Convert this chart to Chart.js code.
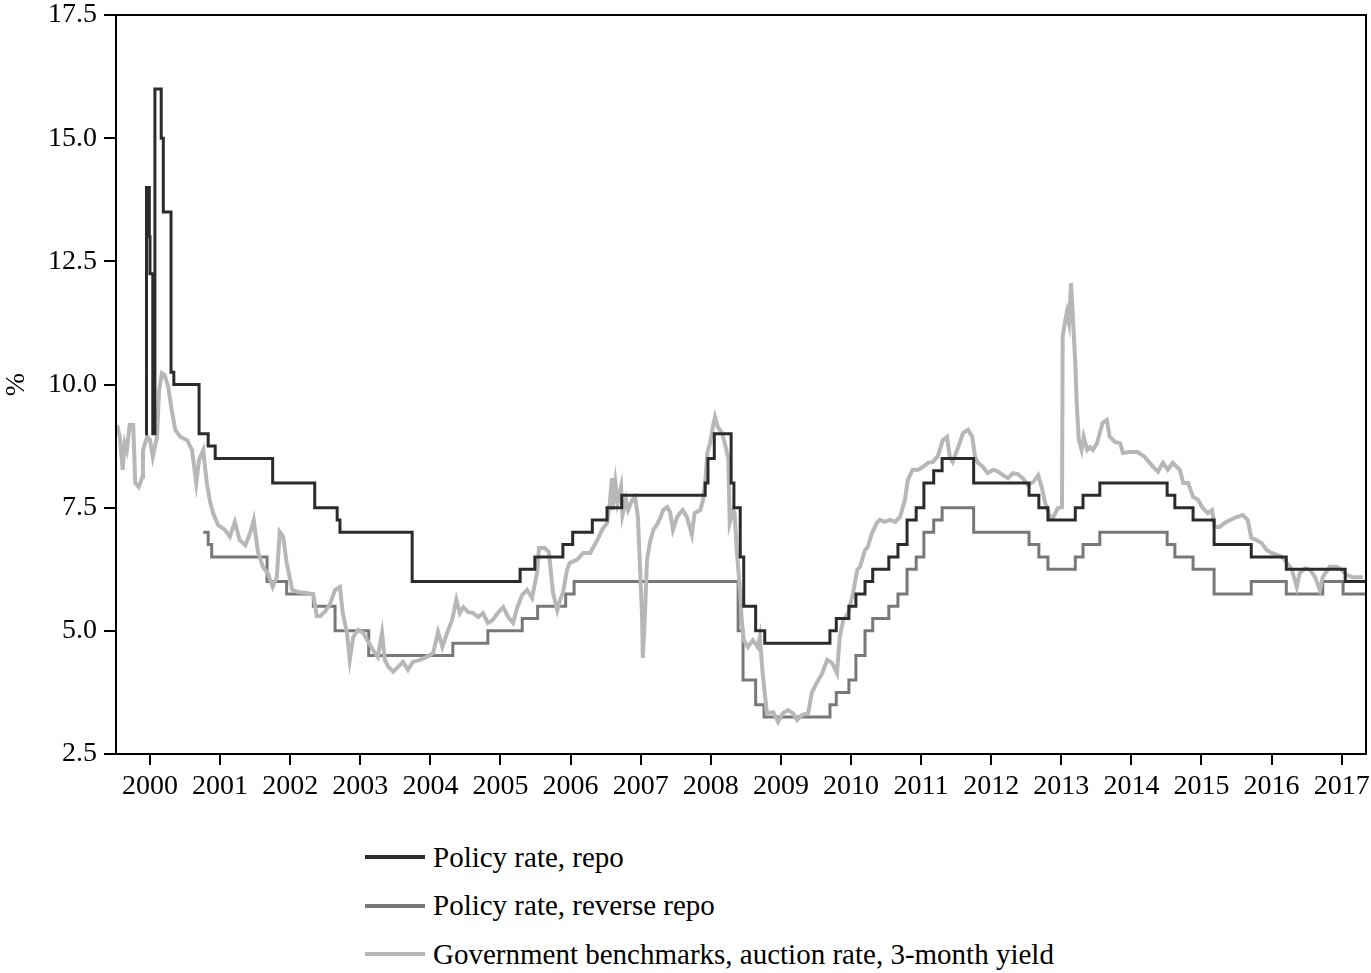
<!DOCTYPE html>
<html>
<head>
<meta charset="utf-8">
<script src="https://cdn.jsdelivr.net/npm/chart.js@4.4.1/dist/chart.umd.min.js"></script>
<style>
  html, body { margin:0; padding:0; background:#fff; }
  #wrap { position:relative; width:1371px; height:973px; overflow:hidden; }
  #c { position:absolute; left:0; top:0; }
  #legend { position:absolute; left:365px; top:833px; font-family:'Liberation Serif','Times New Roman',serif; font-size:29px; color:#000; }
  .row { display:flex; align-items:center; height:48.5px; white-space:nowrap; }
  .sw { display:inline-block; width:60px; height:4px; margin-right:8px; }
</style>
</head>
<body>
<div id="wrap">
  <canvas id="c" width="1371" height="800"></canvas>
  <div id="legend"></div>
</div>
<script>
// ---- data (x = decimal year on the axis, y = percent) ----
const seriesNames = [
  'Policy rate, repo',
  'Policy rate, reverse repo',
  'Government benchmarks, auction rate, 3-month yield'
];
const yearTicks = [2000,2001,2002,2003,2004,2005,2006,2007,2008,2009,2010,2011,2012,2013,2014,2015,2016,2017];
const yTicks = [2.5,5.0,7.5,10.0,12.5,15.0,17.5];
const X_MIN = 1999.515, X_MAX = 2017.347;

// step series: [date of change, new rate]
const repo = [[1999.93,9.0],[1999.95,14.0],[1999.99,13.0],[2000.00,12.25],[2000.04,9.0],[2000.07,16.0],[2000.16,15.0],[2000.19,13.5],[2000.30,10.25],[2000.34,10.0],[2000.70,9.0],[2000.83,8.75],[2000.93,8.5],[2001.75,8.0],[2002.35,7.5],[2002.67,7.25],[2002.71,7.0],[2003.74,6.0],[2005.28,6.25],[2005.49,6.5],[2005.89,6.75],[2006.03,7.0],[2006.31,7.25],[2006.52,7.5],[2006.73,7.75],[2007.92,8.0],[2007.96,8.5],[2008.05,9.0],[2008.29,8.0],[2008.33,7.5],[2008.42,6.5],[2008.47,5.5],[2008.64,5.0],[2008.77,4.75],[2009.70,5.0],[2009.79,5.25],[2009.97,5.5],[2010.07,5.75],[2010.20,6.0],[2010.31,6.25],[2010.54,6.5],[2010.67,6.75],[2010.80,7.25],[2010.93,7.5],[2011.04,8.0],[2011.18,8.25],[2011.30,8.5],[2011.75,8.0],[2012.54,7.75],[2012.68,7.5],[2012.81,7.25],[2013.20,7.5],[2013.31,7.75],[2013.55,8.0],[2014.51,7.75],[2014.62,7.5],[2014.88,7.25],[2015.18,6.75],[2015.71,6.5],[2016.21,6.25],[2017.05,6.0],[2017.40,6.0]];

const reverseRepo = [[2000.76,7.0],[2000.83,6.75],[2000.88,6.5],[2001.67,6.0],[2001.95,5.75],[2002.33,5.5],[2002.64,5.0],[2003.12,4.5],[2004.32,4.75],[2004.82,5.0],[2005.31,5.25],[2005.53,5.5],[2005.93,5.75],[2006.05,6.0],[2008.39,5.0],[2008.46,4.0],[2008.64,3.5],[2008.76,3.25],[2009.70,3.5],[2009.79,3.75],[2009.97,4.0],[2010.07,4.5],[2010.20,5.0],[2010.31,5.25],[2010.54,5.5],[2010.67,5.75],[2010.80,6.25],[2010.93,6.5],[2011.04,7.0],[2011.18,7.25],[2011.30,7.5],[2011.75,7.0],[2012.54,6.75],[2012.68,6.5],[2012.81,6.25],[2013.20,6.5],[2013.31,6.75],[2013.55,7.0],[2014.51,6.75],[2014.62,6.5],[2014.88,6.25],[2015.18,5.75],[2015.71,6.0],[2016.21,5.75],[2016.73,6.0],[2017.02,5.75],[2017.40,5.75]];

const benchmark = [[1999.53,9.18],[1999.57,8.94],[1999.61,8.27],[1999.64,8.81],[1999.67,8.67],[1999.71,9.18],[1999.76,9.18],[1999.79,8.0],[1999.84,7.92],[1999.89,8.12],[1999.90,8.67],[1999.96,8.94],[2000.00,8.87],[2000.04,8.53],[2000.10,8.94],[2000.13,9.89],[2000.17,10.23],[2000.21,10.19],[2000.26,9.95],[2000.31,9.48],[2000.36,9.08],[2000.43,8.94],[2000.53,8.87],[2000.60,8.67],[2000.66,8.0],[2000.70,8.47],[2000.76,8.67],[2000.81,8.0],[2000.86,7.6],[2000.90,7.39],[2000.97,7.15],[2001.07,7.05],[2001.14,6.91],[2001.21,7.21],[2001.28,6.84],[2001.36,6.74],[2001.43,6.99],[2001.48,7.25],[2001.54,6.6],[2001.61,6.3],[2001.68,6.17],[2001.75,5.89],[2001.81,6.09],[2001.85,7.01],[2001.90,6.91],[2001.95,6.38],[2002.03,5.83],[2002.11,5.79],[2002.24,5.77],[2002.33,5.73],[2002.38,5.3],[2002.43,5.3],[2002.50,5.4],[2002.57,5.55],[2002.64,5.83],[2002.71,5.89],[2002.75,5.36],[2002.81,4.96],[2002.85,4.41],[2002.90,4.88],[2002.97,5.02],[2003.04,4.96],[2003.10,4.81],[2003.18,4.61],[2003.25,4.47],[2003.31,4.96],[2003.35,4.41],[2003.40,4.27],[2003.47,4.17],[2003.54,4.27],[2003.61,4.37],[2003.68,4.21],[2003.75,4.37],[2003.85,4.41],[2003.95,4.47],[2004.04,4.55],[2004.11,4.98],[2004.17,4.67],[2004.24,4.96],[2004.31,5.22],[2004.37,5.63],[2004.42,5.36],[2004.47,5.48],[2004.54,5.38],[2004.61,5.36],[2004.68,5.28],[2004.75,5.36],[2004.82,5.16],[2004.89,5.22],[2004.96,5.36],[2005.04,5.48],[2005.11,5.28],[2005.18,5.16],[2005.24,5.48],[2005.31,5.73],[2005.38,5.83],[2005.45,5.67],[2005.52,6.17],[2005.55,6.68],[2005.63,6.68],[2005.69,6.6],[2005.75,5.77],[2005.81,5.42],[2005.85,5.63],[2005.89,5.77],[2005.95,6.24],[2005.99,6.38],[2006.09,6.44],[2006.18,6.58],[2006.28,6.58],[2006.38,6.84],[2006.45,7.05],[2006.52,7.19],[2006.56,7.6],[2006.59,8.1],[2006.60,7.45],[2006.64,8.0],[2006.67,7.6],[2006.72,7.92],[2006.74,7.35],[2006.79,7.66],[2006.82,7.45],[2006.88,7.66],[2006.92,7.72],[2006.96,7.31],[2006.99,6.3],[2007.02,5.28],[2007.03,4.45],[2007.06,5.28],[2007.09,6.44],[2007.13,6.78],[2007.18,7.05],[2007.23,7.15],[2007.28,7.29],[2007.32,7.45],[2007.38,7.51],[2007.42,7.41],[2007.46,7.05],[2007.52,7.31],[2007.56,7.39],[2007.60,7.45],[2007.66,7.31],[2007.73,6.95],[2007.77,7.39],[2007.85,7.45],[2007.89,7.66],[2007.92,8.0],[2007.95,8.61],[2007.99,8.81],[2008.03,9.14],[2008.06,9.34],[2008.10,9.14],[2008.16,9.02],[2008.20,8.81],[2008.25,8.5],[2008.27,7.19],[2008.32,7.45],[2008.34,7.4],[2008.37,6.64],[2008.42,5.77],[2008.44,5.25],[2008.47,4.81],[2008.53,4.67],[2008.60,4.81],[2008.67,4.67],[2008.70,4.88],[2008.74,4.14],[2008.80,3.33],[2008.89,3.35],[2008.96,3.15],[2009.03,3.33],[2009.10,3.39],[2009.17,3.33],[2009.23,3.19],[2009.30,3.29],[2009.39,3.33],[2009.44,3.74],[2009.51,3.94],[2009.59,4.14],[2009.66,4.41],[2009.73,4.35],[2009.80,4.14],[2009.84,4.88],[2009.89,5.22],[2009.96,5.36],[2010.03,5.77],[2010.09,6.24],[2010.13,6.3],[2010.20,6.64],[2010.24,6.7],[2010.30,6.99],[2010.37,7.19],[2010.41,7.25],[2010.48,7.21],[2010.56,7.25],[2010.63,7.21],[2010.70,7.31],[2010.77,7.66],[2010.81,8.06],[2010.88,8.27],[2010.96,8.27],[2011.03,8.33],[2011.10,8.41],[2011.17,8.43],[2011.24,8.55],[2011.31,8.87],[2011.37,8.94],[2011.41,8.53],[2011.45,8.43],[2011.53,8.73],[2011.60,9.02],[2011.67,9.08],[2011.73,8.94],[2011.77,8.53],[2011.81,8.41],[2011.88,8.33],[2011.95,8.2],[2012.03,8.27],[2012.10,8.23],[2012.17,8.16],[2012.24,8.1],[2012.31,8.2],[2012.38,8.18],[2012.45,8.1],[2012.52,7.96],[2012.60,8.02],[2012.67,8.16],[2012.72,7.92],[2012.77,7.6],[2012.84,7.31],[2012.88,7.29],[2012.95,7.49],[2013.01,7.51],[2013.02,10.96],[2013.05,11.25],[2013.08,11.47],[2013.11,11.25],[2013.14,12.06],[2013.17,11.25],[2013.20,10.44],[2013.22,9.62],[2013.25,8.87],[2013.29,8.67],[2013.32,8.94],[2013.37,8.67],[2013.41,8.73],[2013.45,8.67],[2013.51,8.81],[2013.55,9.02],[2013.59,9.22],[2013.65,9.28],[2013.69,8.94],[2013.77,8.83],[2013.84,8.81],[2013.88,8.61],[2013.98,8.63],[2014.09,8.63],[2014.19,8.53],[2014.31,8.33],[2014.38,8.23],[2014.45,8.41],[2014.52,8.27],[2014.59,8.41],[2014.69,8.27],[2014.74,8.0],[2014.81,8.0],[2014.88,7.72],[2014.95,7.66],[2015.02,7.49],[2015.09,7.39],[2015.15,7.45],[2015.19,7.11],[2015.26,7.11],[2015.33,7.19],[2015.41,7.25],[2015.50,7.31],[2015.59,7.35],[2015.66,7.25],[2015.71,6.89],[2015.79,6.84],[2015.86,6.78],[2015.93,6.64],[2016.00,6.58],[2016.08,6.54],[2016.15,6.5],[2016.22,6.38],[2016.29,6.24],[2016.36,5.89],[2016.40,6.17],[2016.48,6.27],[2016.55,6.24],[2016.62,6.09],[2016.69,5.83],[2016.73,6.09],[2016.83,6.3],[2016.93,6.3],[2017.00,6.24],[2017.07,6.13],[2017.16,6.09],[2017.30,6.09]];

const seriesColors = ['#2b2b2b', '#787878', '#b7b7b7'];

// ---- chart ----
const toPts = arr => arr.map(([x, y]) => ({x, y}));
const FONT = {family: "'Liberation Serif', 'Times New Roman', serif", size: 28};
const noPad = s => { s.paddingLeft = 0; s.paddingRight = 0; s.paddingTop = 0; s.paddingBottom = 0; };

const boxPlugin = {
  id: 'box',
  afterDraw(chart) {
    const {ctx, chartArea: a} = chart;
    ctx.save();
    ctx.strokeStyle = '#000';
    ctx.lineWidth = 2;
    ctx.strokeRect(a.left, a.top, a.right - a.left, a.bottom - a.top);
    ctx.restore();
  }
};

const chart = new Chart(document.getElementById('c'), {
  type: 'line',
  data: {
    datasets: [
      {label: seriesNames[0], data: toPts(repo), borderColor: seriesColors[0], borderWidth: 3, stepped: 'before', pointRadius: 0, order: 0},
      {label: seriesNames[1], data: toPts(reverseRepo), borderColor: seriesColors[1], borderWidth: 3, stepped: 'before', pointRadius: 0, order: 2},
      {label: seriesNames[2], data: toPts(benchmark), borderColor: seriesColors[2], borderWidth: 4, pointRadius: 0, order: 1, tension: 0}
    ]
  },
  options: {
    responsive: false,
    animation: false,
    devicePixelRatio: 1,
    layout: {padding: {top: 15, right: 5, left: 0, bottom: 0}, autoPadding: false},
    plugins: {legend: {display: false}, tooltip: {enabled: false}},
    scales: {
      x: {
        type: 'linear', min: X_MIN, max: X_MAX,
        afterBuildTicks: s => { s.ticks = yearTicks.map(v => ({value: v})); },
        afterFit: s => { s.height = 46; noPad(s); },
        ticks: {callback: v => String(v), font: FONT, color: '#000', padding: 5, maxRotation: 0, autoSkip: false},
        grid: {drawOnChartArea: false, drawTicks: true, tickLength: 11, color: '#000', lineWidth: 2},
        border: {display: true, color: '#000', width: 2}
      },
      y: {
        type: 'linear', min: 2.5, max: 17.5,
        afterBuildTicks: s => { s.ticks = yTicks.map(v => ({value: v})); },
        afterFit: s => { s.width = 116; noPad(s); },
        ticks: {callback: v => Number(v).toFixed(1), font: FONT, color: '#000', padding: 7},
        grid: {drawOnChartArea: false, drawTicks: true, tickLength: 12, color: '#000', lineWidth: 2},
        border: {display: true, color: '#000', width: 2},
        title: {display: true, text: '%', font: FONT, color: '#000', padding: 0}
      }
    }
  },
  plugins: [boxPlugin]
});

// ---- legend (HTML, below the chart) ----
const leg = document.getElementById('legend');
chart.data.datasets.forEach(ds => {
  const row = document.createElement('div');
  row.className = 'row';
  const sw = document.createElement('span');
  sw.className = 'sw';
  sw.style.background = ds.borderColor;
  const lbl = document.createElement('span');
  lbl.textContent = ds.label;
  row.appendChild(sw);
  row.appendChild(lbl);
  leg.appendChild(row);
});
</script>
</body>
</html>
